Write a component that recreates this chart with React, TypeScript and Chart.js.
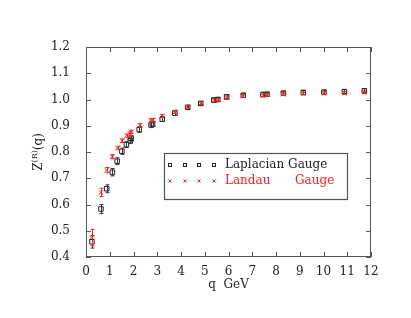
import React, { useEffect, useRef } from "react";
import { Chart, registerables } from "chart.js";

Chart.register(...registerables);

const qLap = [0.25, 0.63, 0.87, 1.11, 1.31, 1.51, 1.70, 1.86, 1.90, 2.24, 2.74, 2.80, 3.21, 3.74, 4.28, 4.83, 5.38, 5.55, 5.92, 6.62, 7.45, 7.62, 8.31, 9.15, 10.02, 10.88, 11.72];
const zLap = [0.458, 0.583, 0.660, 0.723, 0.765, 0.803, 0.828, 0.843, 0.852, 0.885, 0.903, 0.907, 0.925, 0.948, 0.970, 0.985, 0.998, 1.000, 1.010, 1.016, 1.019, 1.020, 1.024, 1.027, 1.028, 1.030, 1.033];
const eLap = [0.024, 0.017, 0.015, 0.014, 0.013, 0.012, 0.011, 0.011, 0.011, 0.010, 0.010, 0.010, 0.009, 0.009, 0.008, 0.008, 0.008, 0.008, 0.008, 0.008, 0.008, 0.008, 0.008, 0.008, 0.008, 0.008, 0.008];

const qLan = [0.25, 0.63, 0.87, 1.11, 1.33, 1.52, 1.71, 1.85, 1.89, 2.27, 2.74, 2.80, 3.21, 3.75, 4.27, 4.83, 5.40, 5.56, 5.92, 6.62, 7.46, 7.63, 8.31, 9.15, 10.02, 10.88, 11.72];
const zLan = [0.474, 0.646, 0.731, 0.782, 0.815, 0.843, 0.862, 0.870, 0.877, 0.902, 0.920, 0.922, 0.937, 0.953, 0.972, 0.986, 0.997, 0.999, 1.008, 1.013, 1.016, 1.017, 1.020, 1.023, 1.024, 1.025, 1.027];
const eLan = [0.031, 0.016, 0.010, 0.008, 0.007, 0.007, 0.007, 0.007, 0.006, 0.006, 0.006, 0.006, 0.006, 0.006, 0.005, 0.005, 0.005, 0.005, 0.005, 0.005, 0.005, 0.005, 0.005, 0.005, 0.005, 0.005, 0.005];

const xTicks = [0, 1, 2, 3, 4, 5, 6, 7, 8, 9, 10, 11, 12];
const yTicks = [0.4, 0.5, 0.6, 0.7, 0.8, 0.9, 1.0, 1.1, 1.2];

const legendLabels = ["Laplacian Gauge", "Landau", "Gauge"];
const xTitle = "q  GeV";

const FONT = "DejaVu Serif";
const FRAME = "#555555";
const RED = "#ff2020";

const errorBars = {
  id: "errorBars",
  afterDatasetsDraw(chart: any) {
    const ctx = chart.ctx;
    const xs = chart.scales.x;
    const ys = chart.scales.y;
    chart.data.datasets.forEach((ds: any) => {
      const errs = ds.errors as number[];
      ctx.save();
      ctx.strokeStyle = ds.errorColor;
      ctx.lineWidth = 1;
      ds.data.forEach((p: any, i: number) => {
        const x = Math.round(xs.getPixelForValue(p.x)) + 0.5;
        const y1 = ys.getPixelForValue(p.y - errs[i]);
        const y2 = ys.getPixelForValue(p.y + errs[i]);
        ctx.beginPath();
        ctx.moveTo(x, y1);
        ctx.lineTo(x, y2);
        ctx.moveTo(x - 2, y1);
        ctx.lineTo(x + 2, y1);
        ctx.moveTo(x - 2, y2);
        ctx.lineTo(x + 2, y2);
        ctx.stroke();
      });
      ctx.restore();
    });
  },
};

const frameAndText = {
  id: "frameAndText",
  afterDraw(chart: any) {
    const ctx = chart.ctx;
    const { left, right, top, bottom } = chart.chartArea;
    const xs = chart.scales.x;
    const ys = chart.scales.y;
    ctx.save();
    ctx.strokeStyle = FRAME;
    ctx.lineWidth = 1;
    ctx.strokeRect(left + 0.5, top + 0.5, right - left - 1, bottom - top - 1);
    ctx.beginPath();
    xTicks.forEach((t) => {
      const x = Math.round(xs.getPixelForValue(t)) + 0.5;
      ctx.moveTo(x, bottom);
      ctx.lineTo(x, bottom - 5);
      ctx.moveTo(x, top);
      ctx.lineTo(x, top + 5);
    });
    yTicks.forEach((t) => {
      const y = Math.round(ys.getPixelForValue(t)) + 0.5;
      ctx.moveTo(left, y);
      ctx.lineTo(left + 5, y);
      ctx.moveTo(right, y);
      ctx.lineTo(right - 5, y);
    });
    ctx.stroke();

    // axis titles
    ctx.fillStyle = "#222";
    ctx.font = `12px ${FONT}`;
    ctx.textAlign = "center";
    ctx.textBaseline = "middle";
    ctx.fillText(xTitle, (left + right) / 2, 285);

    ctx.save();
    ctx.translate(38, (top + bottom) / 2);
    ctx.rotate(-Math.PI / 2);
    ctx.textAlign = "left";
    ctx.textBaseline = "alphabetic";
    const z = "Z";
    const sup = "(R)";
    const tail = "(q)";
    ctx.font = `12px ${FONT}`;
    const wz = ctx.measureText(z).width;
    const wt = ctx.measureText(tail).width;
    ctx.font = `8px ${FONT}`;
    const ws = ctx.measureText(sup).width;
    const total = wz + ws + wt;
    let px = -total / 2;
    ctx.font = `12px ${FONT}`;
    ctx.fillText(z, px, 4);
    px += wz;
    ctx.font = `8px ${FONT}`;
    ctx.fillText(sup, px, -1);
    px += ws;
    ctx.font = `12px ${FONT}`;
    ctx.fillText(tail, px, 4);
    ctx.restore();

    // legend
    const bx = 164, by = 153, bw = 183, bh = 46;
    ctx.strokeStyle = FRAME;
    ctx.lineWidth = 1.2;
    ctx.strokeRect(bx + 0.5, by + 0.5, bw, bh);
    const mx = [170, 184.5, 199, 213.5];
    const r1 = 165, r2 = 181;
    ctx.lineWidth = 1;
    ctx.strokeStyle = "#222";
    mx.forEach((m) => {
      ctx.strokeRect(Math.round(m) - 1.5, r1 - 1.5, 3, 3);
    });
    ctx.strokeStyle = RED;
    mx.forEach((m) => {
      const c = Math.round(m);
      ctx.beginPath();
      ctx.moveTo(c - 1.5, r2 - 1.5);
      ctx.lineTo(c + 1.5, r2 + 1.5);
      ctx.moveTo(c + 1.5, r2 - 1.5);
      ctx.lineTo(c - 1.5, r2 + 1.5);
      ctx.stroke();
    });
    ctx.font = `12px ${FONT}`;
    ctx.textAlign = "left";
    ctx.textBaseline = "middle";
    ctx.fillStyle = "#222";
    ctx.fillText(legendLabels[0], 225, r1);
    ctx.fillStyle = RED;
    ctx.fillText(legendLabels[1], 225, r2);
    ctx.fillText(legendLabels[2], 295, r2);
    ctx.restore();
  },
};

export default function App() {
  const ref = useRef<HTMLCanvasElement | null>(null);
  useEffect(() => {
    document.body.style.margin = "0";
    const canvas = ref.current!;
    const chart = new Chart(canvas, {
      type: "scatter",
      data: {
        datasets: [
          {
            label: "Laplacian Gauge",
            data: qLap.map((q, i) => ({ x: q, y: zLap[i] })),
            errors: eLap,
            errorColor: "#333",
            pointStyle: "rect",
            pointRadius: 3.2,
            borderColor: "#222",
            backgroundColor: "rgba(0,0,0,0)",
            borderWidth: 1,
          } as any,
          {
            label: "Landau Gauge",
            data: qLan.map((q, i) => ({ x: q, y: zLan[i] })),
            errors: eLan,
            errorColor: RED,
            pointStyle: "crossRot",
            pointRadius: 3,
            borderColor: RED,
            backgroundColor: RED,
            borderWidth: 1,
          } as any,
        ],
      },
      options: {
        animation: false,
        responsive: false,
        maintainAspectRatio: false,
        layout: { padding: { left: 0, top: 47, right: 40, bottom: 0 } },
        plugins: { legend: { display: false }, tooltip: { enabled: false } },
        scales: {
          x: {
            type: "linear",
            min: 0,
            max: 12,
            afterFit: (s: any) => { s.height = 61; },
            afterBuildTicks: (s: any) => { s.ticks = xTicks.map((v) => ({ value: v })); },
            grid: { display: false, drawTicks: false },
            border: { display: false },
            ticks: {
              padding: 8,
              color: "#222",
              font: { family: FONT, size: 12 },
              callback: (v: any) => String(v),
              maxRotation: 0,
              autoSkip: false,
            },
          },
          y: {
            type: "linear",
            min: 0.4,
            max: 1.2,
            afterFit: (s: any) => { s.width = 86; },
            afterBuildTicks: (s: any) => { s.ticks = yTicks.map((v) => ({ value: v })); },
            grid: { display: false, drawTicks: false },
            border: { display: false },
            ticks: {
              padding: 16,
              color: "#222",
              font: { family: FONT, size: 12 },
              callback: (v: any) => Number(v).toFixed(1),
              autoSkip: false,
            },
          },
        },
      },
      plugins: [errorBars, frameAndText],
    });
    return () => chart.destroy();
  }, []);
  return (
    <div style={{ width: 411, height: 318 }}>
      <canvas ref={ref} width={411} height={318} style={{ display: "block", width: 411, height: 318 }} />
    </div>
  );
}
